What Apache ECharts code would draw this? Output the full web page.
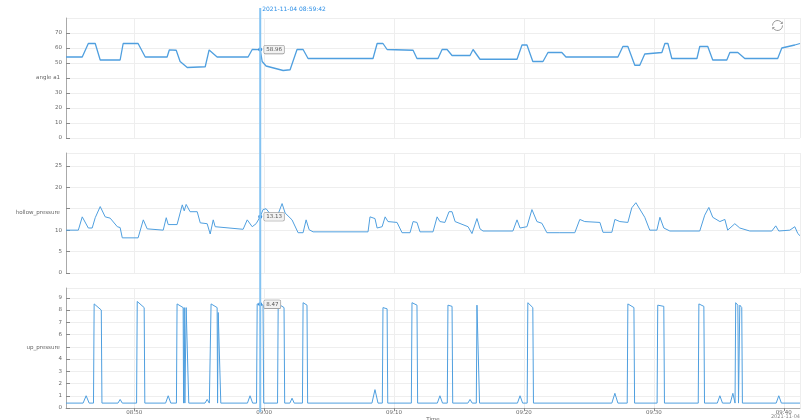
<!DOCTYPE html>
<html>
<head>
<meta charset="utf-8">
<script src="https://cdn.jsdelivr.net/npm/echarts@6/dist/echarts.min.js"></script>
<style>html,body{margin:0;padding:0;background:#fff}#c{width:803px;height:420px}</style>
</head>
<body>
<div id="c"></div>
<script>
const day = '2021-11-04';
const timeMin = '08:44:45';
const timeMax = '09:41:15';
const cursorTime = '08:59:42';
const cursorValues = [58.96, 13.13, 8.47];
const seriesNames = ['angle a1', 'hollow_pressure', 'up_pressure'];

const angleA1 = [
 ['08:44:45',54],['08:46:00',54],['08:46:28',63],['08:47:00',63],['08:47:23',52],['08:48:55',52],
 ['08:49:09',63],['08:50:18',63],['08:50:51',54],['08:52:32',54],['08:52:42',58.7],['08:53:14',58.5],
 ['08:53:32',51],['08:54:05',47],['08:55:28',47.5],['08:55:46',58.7],['08:56:23',54],['08:58:46',54],
 ['08:59:05',59],['08:59:42',58.96],['08:59:51',51],['09:00:09',48],['09:01:28',45],['09:02:00',45.5],
 ['09:02:32',59],['09:03:00',59],['09:03:23',53],['09:08:23',53],['09:08:42',63],['09:09:09',63],
 ['09:09:28',59],['09:11:28',58.5],['09:11:46',53],['09:13:23',53],['09:13:42',59],['09:14:05',59],
 ['09:14:28',55],['09:15:51',55],['09:16:05',59],['09:16:37',52.5],['09:19:28',52.5],['09:19:51',62],
 ['09:20:14',62],['09:20:41',51],['09:21:28',51],['09:21:51',57],['09:22:55',57],['09:23:14',54],
 ['09:27:14',54],['09:27:37',61],['09:28:00',61],['09:28:32',48.5],['09:28:55',48.5],['09:29:18',56],
 ['09:30:37',57],['09:30:51',63],['09:31:05',63],['09:31:23',53],['09:33:19',53],['09:33:32',61],
 ['09:34:09',61],['09:34:32',52],['09:35:37',52],['09:35:51',57],['09:36:28',57],['09:37:00',53],
 ['09:39:32',53],['09:39:51',60],['09:40:51',62],['09:41:15',63]
];

const hollowPressure = [
 ['08:44:45',10.0],['08:45:42',10.0],['08:46:00',13.1],['08:46:28',10.5],['08:46:46',10.5],['08:47:00',12.9],
 ['08:47:23',15.5],['08:47:46',13.1],['08:48:09',12.8],['08:48:42',10.8],['08:48:55',10.6],['08:49:05',8.2],
 ['08:50:18',8.2],['08:50:42',12.4],['08:50:51',12.4],['08:51:00',10.3],['08:52:14',10.0],['08:52:28',12.9],
 ['08:52:37',11.3],['08:53:18',11.3],['08:53:42',15.9],['08:53:51',14.5],['08:54:00',16.0],['08:54:18',14.3],
 ['08:54:51',14.3],['08:55:05',11.7],['08:55:37',11.5],['08:55:51',9.1],['08:56:05',12.4],['08:56:14',10.8],
 ['08:56:23',10.6],['08:58:23',10.2],['08:58:42',12.4],['08:59:05',10.8],['08:59:23',11.5],['08:59:42',13.13],
 ['08:59:55',14.8],['09:00:09',15.0],['09:00:28',13.8],['09:01:05',13.8],['09:01:23',16.2],['09:01:37',14.0],
 ['09:02:09',12.4],['09:02:37',9.4],['09:03:00',9.4],['09:03:14',12.4],['09:03:28',10.1],['09:03:46',9.6],
 ['09:08:00',9.6],['09:08:09',13.1],['09:08:32',12.7],['09:08:42',10.5],['09:09:05',10.8],['09:09:19',13.1],
 ['09:09:32',12.0],['09:10:14',11.8],['09:10:37',9.4],['09:11:14',9.4],['09:11:28',12.0],['09:11:46',11.8],
 ['09:12:00',9.6],['09:13:00',9.6],['09:13:19',13.1],['09:13:32',12.0],['09:13:55',11.8],['09:14:14',14.3],
 ['09:14:28',14.3],['09:14:42',12.0],['09:15:42',10.8],['09:16:00',9.2],['09:16:23',12.7],['09:16:37',10.3],
 ['09:16:51',9.8],['09:19:09',9.8],['09:19:28',12.4],['09:19:42',10.5],['09:20:14',10.8],['09:20:37',14.8],
 ['09:21:00',12.0],['09:21:23',11.6],['09:21:46',9.4],['09:22:46',9.4],['09:23:55',9.4],['09:24:18',12.5],
 ['09:24:41',12.0],['09:25:51',11.8],['09:26:05',9.5],['09:26:46',9.5],['09:27:00',12.5],['09:27:23',12.0],
 ['09:28:00',11.8],['09:28:18',15.2],['09:28:37',16.4],['09:29:18',13.0],['09:29:41',10.0],['09:30:14',10.0],
 ['09:30:28',13.0],['09:30:46',10.5],['09:31:14',9.8],['09:33:32',9.8],['09:33:55',13.5],['09:34:14',15.3],
 ['09:34:32',13.0],['09:35:05',12.0],['09:35:28',12.5],['09:35:41',10.0],['09:36:14',11.5],['09:36:37',10.5],
 ['09:37:23',9.8],['09:39:05',9.8],['09:39:23',11.0],['09:39:37',9.8],['09:40:28',10.0],['09:40:51',10.8],
 ['09:41:05',9.2],['09:41:15',8.7]
];

const upPressure = [
 ['08:44:45',0.4],['08:46:04',0.4],['08:46:18',1.0],['08:46:32',0.4],['08:46:52',0.4],['08:46:55',8.5],
 ['08:47:00',8.6],['08:47:28',8.0],['08:47:31',0.4],['08:48:45',0.4],['08:48:55',0.7],['08:49:05',0.4],
 ['08:50:11',0.4],['08:50:14',8.7],['08:50:46',8.2],['08:50:49',0.4],['08:52:25',0.4],['08:52:37',1.0],
 ['08:52:49',0.4],['08:53:15',0.4],['08:53:18',8.5],['08:53:46',8.2],['08:53:48',0.4],['08:53:51',8.2],
 ['08:53:54',0.4],['08:54:00',8.2],['08:54:09',8.1],['08:54:12',0.4],['08:55:27',0.4],['08:55:37',0.7],
 ['08:55:47',0.4],['08:55:52',0.4],['08:55:55',8.5],['08:56:23',8.2],['08:56:25',0.4],['08:56:28',7.8],
 ['08:56:37',7.8],['08:56:40',0.4],['08:58:43',0.4],['08:58:55',1.0],['08:59:07',0.4],['08:59:25',0.4],
 ['08:59:28',8.5],['08:59:42',8.47],['08:59:55',8.4],['08:59:58',0.4],['09:01:02',0.4],['09:01:05',8.5],
 ['09:01:32',8.2],['09:01:35',0.4],['09:01:59',0.4],['09:02:09',0.8],['09:02:19',0.4],['09:02:57',0.4],
 ['09:03:00',8.6],['09:03:18',8.4],['09:03:21',0.4],['09:08:18',0.4],['09:08:32',1.5],['09:08:46',0.4],
 ['09:09:06',0.4],['09:09:09',8.2],['09:09:28',8.1],['09:09:31',0.4],['09:11:20',0.4],['09:11:23',8.6],
 ['09:11:46',8.4],['09:11:49',0.4],['09:13:20',0.4],['09:13:32',1.0],['09:13:44',0.4],['09:14:06',0.4],
 ['09:14:09',8.4],['09:14:28',8.3],['09:14:31',0.4],['09:15:41',0.4],['09:15:51',0.7],['09:16:01',0.4],
 ['09:16:20',0.4],['09:16:23',8.4],['09:16:32',8.3],['09:16:35',0.4],['09:19:30',0.4],['09:19:42',1.0],
 ['09:19:54',0.4],['09:20:15',0.4],['09:20:18',8.6],['09:20:41',8.2],['09:20:44',0.4],['09:26:46',0.4],
 ['09:27:00',1.2],['09:27:14',0.4],['09:27:57',0.4],['09:28:00',8.5],['09:28:28',8.2],['09:28:31',0.4],
 ['09:30:15',0.4],['09:30:18',8.4],['09:30:46',8.3],['09:30:49',0.4],['09:33:25',0.4],['09:33:28',8.5],
 ['09:33:51',8.3],['09:33:54',0.4],['09:34:53',0.4],['09:35:05',1.0],['09:35:17',0.4],['09:35:53',0.4],
 ['09:36:05',1.2],['09:36:15',0.4],['09:36:18',8.6],['09:36:28',8.4],['09:36:31',0.4],['09:36:34',0.4],
 ['09:36:37',8.4],['09:36:46',8.2],['09:36:49',0.4],['09:39:25',0.4],['09:39:37',1.0],['09:39:49',0.4],
 ['09:41:15',0.4]
];

const yMax = [80, 28, 9.8];
const yInterval = [10, 5, 1];
const yNameAt = [40, 15, 5];

const full = t => day + ' ' + t;
const toData = arr => arr.map(p => [full(p[0]), p[1]]);
const allData = [angleA1, hollowPressure, upPressure].map(toData);

const lineColor = '#4f9fdf';
const labelStyle = { color: '#666', fontSize: 5.5, fontFamily: 'DejaVu Sans' };

const chart = echarts.init(document.getElementById('c'));
const grids = [0, 1, 2].map(i => ({ left: 66, right: 3, top: 18 + i * 135, height: 120, outerBoundsMode: 'none' }));

const option = {
  animation: false,
  toolbox: {
    right: 3, top: 3, itemSize: 10,
    iconStyle: { borderColor: '#999' },
    feature: { restore: { title: ' ' } }
  },
  grid: grids,
  xAxis: [0, 1, 2].map(i => ({
    type: 'time', gridIndex: i,
    min: full(timeMin), max: full(timeMax),
    splitNumber: 4,
    axisLine: { show: i === 2, lineStyle: { color: '#aaa' } },
    axisTick: { show: i === 2, length: 3, lineStyle: { color: '#888' } },
    axisLabel: Object.assign({ show: i === 2, formatter: '{HH}:{mm}', margin: 2, showMinLabel: false, showMaxLabel: false }, labelStyle),
    splitLine: { show: true, lineStyle: { color: '#eee', width: 1 } },
    name: i === 2 ? 'Time' : '',
    nameLocation: 'middle', nameGap: 9, nameMoveOverlap: false,
    nameTextStyle: labelStyle
  })),
  yAxis: [0, 1, 2].map(i => ({
    type: 'value', gridIndex: i,
    min: 0, max: yMax[i], interval: yInterval[i],
    name: seriesNames[i], nameLocation: 'middle', nameRotate: 0, nameGap: 6,
    nameMoveOverlap: false,
    nameTextStyle: labelStyle,
    axisLine: { show: true, lineStyle: { color: '#aaa' } },
    axisTick: { show: true, inside: true, length: 4, lineStyle: { color: '#888' } },
    axisLabel: Object.assign({
      showMaxLabel: false, margin: 4,
      formatter: v => (v === yNameAt[i] ? '' : String(v))
    }, labelStyle),
    splitLine: { show: true, lineStyle: { color: '#eee', width: 1 } }
  })),
  series: [0, 1, 2].map(i => ({
    type: 'line', name: seriesNames[i], xAxisIndex: i, yAxisIndex: i,
    data: allData[i], showSymbol: false, symbol: 'none',
    lineStyle: { color: lineColor, width: i === 0 ? 1.3 : 1 },
    itemStyle: { color: lineColor },
    markPoint: {
      symbol: 'circle', symbolSize: 4,
      itemStyle: { color: '#2f86d6' },
      data: [{ coord: [full(cursorTime), cursorValues[i]], value: cursorValues[i] }],
      label: {
        show: true, position: 'right', distance: 2,
        formatter: String(cursorValues[i]),
        color: '#555', fontSize: 5.5, fontFamily: 'DejaVu Sans',
        backgroundColor: '#f2f2f2', borderColor: '#888', borderWidth: 0.6,
        borderRadius: 1, padding: [1, 2]
      }
    }
  }))
};
chart.setOption(option);

const cx = chart.convertToPixel({ xAxisIndex: 0 }, full(cursorTime));
chart.setOption({
  graphic: [
    { type: 'line', z: 100, silent: true,
      shape: { x1: cx, y1: 8, x2: cx, y2: 412 },
      style: { stroke: '#84c3f2', lineWidth: 2 } },
    { type: 'text', z: 101, silent: true, x: cx + 2, y: 9,
      style: { text: full(cursorTime), fill: '#2d8fe6', fontSize: 6, fontFamily: 'DejaVu Sans', textVerticalAlign: 'middle' } },
    { type: 'text', right: 3, top: 414, silent: true,
      style: { text: day, fill: '#888', fontSize: 5, fontFamily: 'DejaVu Sans' } }
  ]
});
</script>
</body>
</html>
